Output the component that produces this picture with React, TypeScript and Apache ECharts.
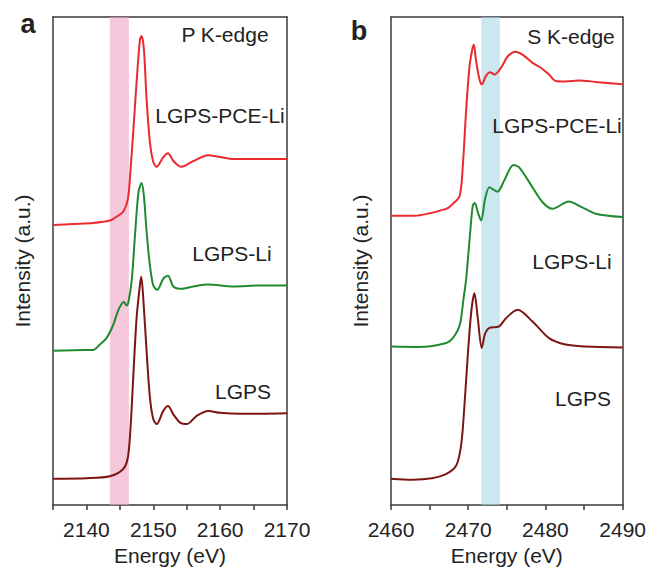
import React, { useEffect, useRef } from "react";
import * as echarts from "echarts";

// ---------- Panel a: P K-edge ----------
const aXTicks = [2140, 2150, 2160, 2170];
const aPceE = [2135, 2138, 2141, 2143.5, 2144.5, 2145.5, 2146.2, 2146.6, 2147, 2147.5, 2148, 2148.25, 2148.6, 2149, 2149.5, 2150, 2150.5, 2151.5, 2152.2, 2153, 2154.2, 2156, 2158.2, 2160, 2162, 2166, 2170];
const aPceI = [57.4, 57.6, 57.8, 58.3, 59.1, 60.1, 62.7, 68.8, 76.4, 86.6, 95.3, 96.1, 93.3, 83.1, 74.3, 70.3, 69.3, 71.3, 72.1, 70.5, 69.3, 70.5, 71.7, 71.3, 70.9, 70.9, 70.9];
const aLiE = [2135, 2140, 2141, 2142, 2143, 2144, 2144.7, 2145.3, 2145.6, 2146, 2146.3, 2146.8, 2147.3, 2147.8, 2148.25, 2148.6, 2149, 2149.5, 2150, 2150.6, 2151.5, 2152.2, 2153, 2154.2, 2156, 2158.2, 2162, 2166, 2170];
const aLiI = [31.6, 31.8, 31.8, 32.9, 34.2, 36.9, 39.7, 41.3, 41.6, 40.9, 41.7, 46.4, 56.0, 64.2, 66.0, 63.3, 56.0, 49.1, 45.0, 44.1, 46.4, 47.0, 44.8, 44.3, 44.8, 45.2, 44.8, 45.0, 45.0];
const aLgpsE = [2135, 2140, 2143.5, 2145.5, 2146.2, 2146.6, 2147, 2147.5, 2148, 2148.2, 2148.5, 2149, 2149.5, 2150, 2150.5, 2151.5, 2152.2, 2153, 2154, 2155, 2156.5, 2158.2, 2160, 2163, 2166, 2170];
const aLgpsI = [5.4, 5.5, 5.9, 7.4, 9.8, 15.9, 26.1, 38.3, 45.1, 46.8, 42.4, 31.5, 22.0, 17.6, 16.6, 19.3, 20.3, 18.6, 16.9, 16.6, 18.3, 19.3, 18.9, 18.7, 18.7, 18.8];
const aBand = [2143.5, 2146.35];

// ---------- Panel b: S K-edge ----------
const bXTicks = [2460, 2470, 2480, 2490];
const bPceE = [2460, 2463, 2467.17, 2468, 2468.9, 2469.3, 2469.74, 2470.17, 2470.52, 2470.73, 2471, 2471.46, 2471.75, 2472.32, 2472.83, 2473.39, 2474.25, 2475.1, 2476.1, 2477.04, 2478.33, 2479.4, 2480.47, 2481.33, 2482.6, 2484.33, 2486.5, 2490];
const bPceI = [59.3, 59.3, 60.7, 61.7, 63.4, 69.5, 81.1, 89.9, 93.3, 94.3, 91.2, 87.2, 86.2, 88.0, 88.7, 88.2, 89.6, 91.9, 92.9, 92.3, 90.6, 89.6, 88.2, 86.9, 86.8, 87.0, 86.7, 86.2];
const bLiE = [2460, 2463.7, 2467.17, 2468, 2468.9, 2469.4, 2469.74, 2470.26, 2470.6, 2470.86, 2471.24, 2471.67, 2472.18, 2472.74, 2473.3, 2473.8, 2474.66, 2475.86, 2476.6, 2478.33, 2479.6, 2480.9, 2483, 2484.77, 2486.5, 2490];
const bLiI = [32.5, 32.4, 33.2, 34.2, 36.9, 42.4, 46.4, 56.0, 61.4, 61.9, 60.0, 58.3, 62.7, 65.1, 64.6, 64.2, 66.5, 69.7, 69.2, 65.1, 62.1, 60.7, 62.2, 61.0, 59.7, 59.0];
const bLgpsE = [2460, 2462.8, 2465.3, 2467.17, 2468.45, 2469.1, 2469.52, 2469.95, 2470.4, 2470.8, 2471.24, 2471.75, 2472.2, 2472.74, 2474, 2474.9, 2476.4, 2478.33, 2480.47, 2482.6, 2485.2, 2490];
const bLgpsI = [5.4, 5.2, 5.5, 6.4, 8.1, 12.5, 20.6, 30.8, 39.7, 43.4, 38.3, 32.2, 35.2, 36.3, 36.6, 38.3, 40.0, 37.6, 34.2, 32.9, 32.5, 32.3];
const bBand = [2471.7, 2474.1];

const zip = (xs: number[], ys: number[]) => xs.map((x, i) => [x, ys[i]]);

const FONT = "Liberation Sans, Arial, sans-serif";
const RED = "#ea2a2c";
const GREEN = "#1f8a2e";
const DARK = "#7e1515";
const AXIS = "#3a3a3a";

export default function App() {
  const ref = useRef<HTMLDivElement>(null);
  useEffect(() => {
    if (!ref.current) return;
    const chart = echarts.init(ref.current, undefined, { renderer: "svg" });

    const gridBase = { top: 17, height: 491 };
    const xAxisBase = (idx: number, min: number, max: number, ticks: number[]) => ({
      gridIndex: idx,
      type: "value",
      position: "bottom",
      min,
      max,
      interval: 5,
      name: "Energy (eV)",
      nameLocation: "middle",
      nameGap: 39,
      nameTextStyle: { fontFamily: FONT, fontSize: 21, color: "#222" },
      axisLine: { show: true, onZero: false, lineStyle: { color: AXIS, width: 1.5 } },
      axisTick: { show: true, inside: false, length: 5, lineStyle: { color: AXIS, width: 1.5 } },
      axisLabel: {
        show: true,
        margin: 14,
        fontFamily: FONT,
        fontSize: 21,
        color: "#222",
        showMinLabel: true,
        showMaxLabel: true,
        formatter: (v: number) => (ticks.indexOf(Math.round(v)) >= 0 ? String(Math.round(v)) : ""),
      },
      splitLine: { show: false },
    });
    const xTopAxis = (idx: number, min: number, max: number) => ({
      gridIndex: idx,
      type: "value",
      position: "top",
      min,
      max,
      axisLine: { show: true, onZero: false, lineStyle: { color: AXIS, width: 1.5 } },
      axisTick: { show: false },
      axisLabel: { show: false },
      splitLine: { show: false },
    });
    const yAxisBase = (idx: number) => ({
      gridIndex: idx,
      type: "value",
      position: "left",
      min: 0,
      max: 100,
      name: "Intensity (a.u.)",
      nameLocation: "middle",
      nameGap: 20,
      nameTextStyle: { fontFamily: FONT, fontSize: 21, color: "#222" },
      axisLine: { show: true, onZero: false, lineStyle: { color: AXIS, width: 1.5 } },
      axisTick: { show: false },
      axisLabel: { show: false },
      splitLine: { show: false },
    });
    const yRightAxis = (idx: number) => ({
      gridIndex: idx,
      type: "value",
      position: "right",
      min: 0,
      max: 100,
      axisLine: { show: true, onZero: false, lineStyle: { color: AXIS, width: 1.5 } },
      axisTick: { show: false },
      axisLabel: { show: false },
      splitLine: { show: false },
    });
    const lineSeries = (xi: number, data: number[][], color: string, name: string) => ({
      type: "line",
      name,
      xAxisIndex: xi,
      yAxisIndex: xi,
      data,
      showSymbol: false,
      smooth: 0.3,
      lineStyle: { color, width: 2 },
      itemStyle: { color },
      z: 2,
    });
    const bandSeries = (xi: number, band: number[], color: string) => ({
      type: "line",
      xAxisIndex: xi,
      yAxisIndex: xi,
      data: [],
      z: 5,
      markArea: {
        silent: true,
        itemStyle: { color },
        data: [[{ xAxis: band[0] }, { xAxis: band[1] }]],
      },
    });

    const txt = (x: number, y: number, text: string, size = 21, bold = false) => ({
      type: "text",
      x,
      y,
      z: 10,
      style: {
        text,
        fill: "#222",
        font: `${bold ? "bold " : ""}${size}px ${FONT}`,
        textAlign: "center",
        textVerticalAlign: "middle",
      },
    });

    chart.setOption({
      animation: false,
      backgroundColor: "#fff",
      grid: [
        { ...gridBase, left: 53, width: 234 },
        { ...gridBase, left: 391, width: 233 },
      ],
      xAxis: [
        xAxisBase(0, 2135, 2170, aXTicks),
        xAxisBase(1, 2460, 2490, bXTicks),
        xTopAxis(0, 2135, 2170),
        xTopAxis(1, 2460, 2490),
      ],
      yAxis: [yAxisBase(0), yAxisBase(1), yRightAxis(0), yRightAxis(1)],
      series: [
        lineSeries(0, zip(aPceE, aPceI), RED, "LGPS-PCE-Li"),
        lineSeries(0, zip(aLiE, aLiI), GREEN, "LGPS-Li"),
        lineSeries(0, zip(aLgpsE, aLgpsI), DARK, "LGPS"),
        bandSeries(0, aBand, "rgba(240,163,197,0.6)"),
        lineSeries(1, zip(bPceE, bPceI), RED, "LGPS-PCE-Li"),
        lineSeries(1, zip(bLiE, bLiI), GREEN, "LGPS-Li"),
        lineSeries(1, zip(bLgpsE, bLgpsI), DARK, "LGPS"),
        bandSeries(1, bBand, "rgba(168,217,230,0.6)"),
      ],
      graphic: [
        txt(28, 24, "a", 27, true),
        txt(359, 31, "b", 27, true),
        txt(225, 34, "P K-edge"),
        txt(220, 115, "LGPS-PCE-Li"),
        txt(232, 253, "LGPS-Li"),
        txt(243, 391, "LGPS"),
        txt(571, 36, "S K-edge"),
        txt(557, 125, "LGPS-PCE-Li"),
        txt(572, 261, "LGPS-Li"),
        txt(583, 398, "LGPS"),
      ],
    });
    return () => chart.dispose();
  }, []);
  return (
    <div
      ref={ref}
      style={{ position: "fixed", left: 0, top: 0, width: 649, height: 571, background: "#fff" }}
    />
  );
}
